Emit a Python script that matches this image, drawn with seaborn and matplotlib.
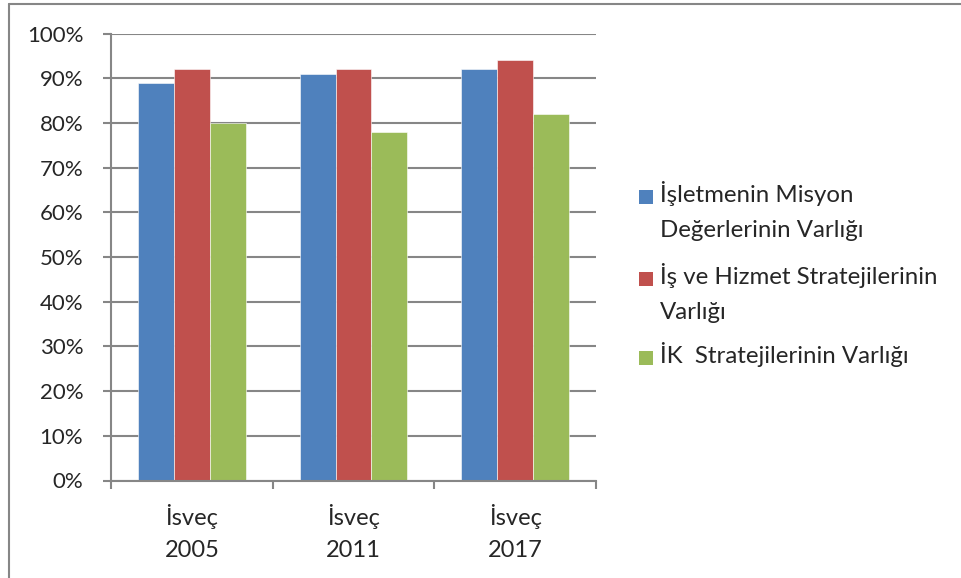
import pandas as pd
import matplotlib
matplotlib.use('Agg')
import matplotlib.pyplot as plt
import seaborn as sns
from matplotlib.lines import Line2D
from matplotlib.patches import Rectangle
from matplotlib.ticker import PercentFormatter, FixedLocator

# Veriler
kategoriler = ['İsveç\n2005', 'İsveç\n2011', 'İsveç\n2017']
seriler = ['İşletmenin Misyon\nDeğerlerinin Varlığı',
           'İş ve Hizmet Stratejilerinin\nVarlığı',
           'İK  Stratejilerinin Varlığı']
misyon = [0.89, 0.91, 0.92]
hizmet = [0.92, 0.92, 0.94]
ik = [0.80, 0.78, 0.82]
renkler = ['#4F81BD', '#C0504D', '#9BBB59']

rows = []
for seri, vals in zip(seriler, [misyon, hizmet, ik]):
    for k, v in zip(kategoriler, vals):
        rows.append({'kategori': k, 'seri': seri, 'deger': v})
df = pd.DataFrame(rows)

sns.set_style('white')
plt.rcParams['font.family'] = ['Lato', 'DejaVu Sans']
gri = '#868686'

W, H = 961, 578
fig = plt.figure(figsize=(W / 100, H / 100), dpi=100)
ax = fig.add_axes([111 / W, 1 - 480.5 / H, 485 / W, 447 / H])

sns.barplot(data=df, x='kategori', y='deger', hue='seri', palette=renkler,
            width=2 / 3, ax=ax, legend=False, saturation=1,
            edgecolor='white', linewidth=0.4)

ax.set_xlim(-0.5, 2.5)
ax.set_ylim(0, 1)
ax.set_yticks([i / 10 for i in range(11)])
ax.yaxis.set_major_formatter(PercentFormatter(1.0, decimals=0))
ax.grid(axis='y', color=gri, linewidth=1.5)
ax.set_axisbelow(True)
ax.set_xlabel('')
ax.set_ylabel('')

for s in ['top', 'right']:
    ax.spines[s].set_visible(False)
for s in ['left', 'bottom']:
    ax.spines[s].set_color(gri)
    ax.spines[s].set_linewidth(1.5)

ax.tick_params(axis='y', length=6, width=1.5, color=gri, pad=14, labelsize=16,
               left=True)
ax.tick_params(axis='x', which='major', length=0, pad=17, labelsize=17)
ax.xaxis.set_minor_locator(FixedLocator([-0.5, 0.5, 1.5, 2.5]))
ax.tick_params(axis='x', which='minor', length=6, width=1.5, color=gri,
               bottom=True)
for lbl in ax.get_xticklabels():
    lbl.set_linespacing(1.65)

# Gösterge
satir_y = [190, 272, 351]
for seri, renk, y in zip(seriler, renkler, satir_y):
    fig.add_artist(Rectangle((639 / W, 1 - (y + 14) / H), 14 / W, 14 / H,
                             transform=fig.transFigure,
                             facecolor=renk, edgecolor='none'))
    fig.text(660 / W, 1 - (y - 9) / H, seri, fontsize=17.3, va='top',
             ha='left', linespacing=1.8)

# Çerçeve
fig.add_artist(Line2D([9 / W, 1], [1 - 4 / H, 1 - 4 / H],
                      transform=fig.transFigure, color=gri, linewidth=1.5))
fig.add_artist(Line2D([9 / W, 9 / W], [0, 1 - 4 / H],
                      transform=fig.transFigure, color=gri, linewidth=1.5))

fig.savefig('out.png', dpi=100, facecolor='white')
